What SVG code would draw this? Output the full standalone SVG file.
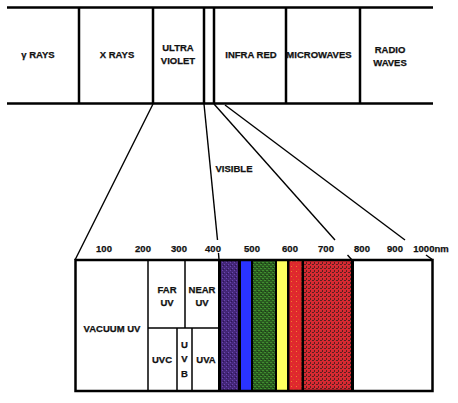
<svg xmlns="http://www.w3.org/2000/svg" width="458" height="403" viewBox="0 0 458 403">
<style>
text{font-family:"Liberation Sans",Arial,sans-serif;font-weight:bold;font-size:9.5px;fill:#111;stroke:#111;stroke-width:0.25;text-anchor:middle}
.thick{stroke:#000;stroke-width:2.5;fill:none}
.thin{stroke:#000;stroke-width:1.5;fill:none}
.conn{stroke:#000;stroke-width:1.4;fill:none}
</style>
<defs>
<pattern id="pPurple" width="4" height="4" patternUnits="userSpaceOnUse">
<rect width="4" height="4" fill="#442679"/>
<rect x="0" y="0" width="1" height="1" fill="#6a48b0"/>
<rect x="2" y="2" width="1" height="1" fill="#6a48b0"/>
<rect x="3" y="1" width="1" height="1" fill="#2a1450"/>
</pattern>
<pattern id="pGreen" width="4" height="4" patternUnits="userSpaceOnUse">
<rect width="4" height="4" fill="#2a5a20"/>
<rect x="0" y="0" width="2" height="1" fill="#3f8f2f"/>
<rect x="2" y="2" width="2" height="1" fill="#3f8f2f"/>
<rect x="1" y="3" width="1" height="1" fill="#1a3a14"/>
</pattern>
<pattern id="pRed" width="5" height="5" patternUnits="userSpaceOnUse">
<rect width="5" height="5" fill="#e0282e"/>
<rect x="1" y="1" width="1" height="1" fill="#f08030"/>
<rect x="3" y="4" width="1" height="1" fill="#d05020"/>
</pattern>
<pattern id="pDark" width="4" height="4" patternUnits="userSpaceOnUse">
<rect width="4" height="4" fill="#d62a32"/>
<rect x="0" y="0" width="2" height="1" fill="#5a2020"/>
<rect x="2" y="2" width="1" height="2" fill="#5a2020"/>
</pattern>
</defs>

<g id="band-top">
<line class="thick" x1="7" y1="7.5" x2="433" y2="7.5"/>
<line class="thick" x1="7" y1="103.5" x2="433" y2="103.5"/>
<line class="thick" x1="79" y1="7" x2="79" y2="104"/>
<line class="thick" x1="153" y1="7" x2="153" y2="104"/>
<line class="thick" x1="204" y1="7" x2="204" y2="104"/>
<line class="thick" x1="214" y1="7" x2="214" y2="104"/>
<line class="thick" x1="286" y1="7" x2="286" y2="104"/>
<line class="thick" x1="360" y1="7" x2="360" y2="104"/>
</g>
<g id="gamma"><text x="38" y="58">γ RAYS</text></g>
<g id="xrays"><text x="117" y="58">X RAYS</text></g>
<g id="uv"><text x="178" y="51">ULTRA</text><text x="178" y="64">VIOLET</text></g>
<g id="ir"><text x="251" y="58">INFRA RED</text></g>
<g id="micro"><text x="319" y="58">MICROWAVES</text></g>
<g id="radio"><text x="390" y="53">RADIO</text><text x="390" y="66">WAVES</text></g>
<g id="visible-label"><text x="234" y="172">VISIBLE</text></g>

<g id="connectors">
<line class="conn" x1="153" y1="104" x2="75" y2="260"/>
<line class="conn" x1="204" y1="104" x2="217.5" y2="240"/>
<line class="conn" x1="218.5" y1="253" x2="219" y2="260"/>
<line class="conn" x1="214" y1="104" x2="335" y2="240"/>
<line class="conn" x1="347.5" y1="255" x2="352" y2="260"/>
<line class="conn" x1="225" y1="105" x2="405" y2="240"/>
<line class="conn" x1="426" y1="255" x2="433" y2="260"/>
</g>

<g id="scale">
<text x="104" y="252">100</text>
<text x="143" y="252">200</text>
<text x="179" y="252">300</text>
<text x="213" y="252">400</text>
<text x="252" y="252">500</text>
<text x="290" y="252">600</text>
<text x="326" y="252">700</text>
<text x="362" y="252">800</text>
<text x="395" y="252">900</text>
<text x="431" y="252">1000nm</text>
</g>

<g id="spectrum">
<rect x="218" y="259" width="136" height="133" fill="#000"/>
<rect x="221" y="261" width="17" height="129" fill="url(#pPurple)"/>
<rect x="241" y="261" width="10" height="129" fill="#2a33ff"/>
<rect x="253" y="261" width="22" height="129" fill="url(#pGreen)"/>
<rect x="277" y="261" width="10" height="129" fill="#ffff60"/>
<rect x="289.5" y="261" width="12" height="129" fill="url(#pRed)"/>
<rect x="304" y="261" width="47" height="129" fill="url(#pDark)"/>
</g>

<g id="box">
<rect class="thick" x="75.5" y="260" width="357" height="131"/>
<line class="thin" x1="148" y1="260" x2="148" y2="391"/>
<line class="thin" x1="148" y1="328" x2="218" y2="328"/>
<line class="thin" x1="185" y1="260" x2="185" y2="328"/>
<line class="thin" x1="177" y1="328" x2="177" y2="391"/>
<line class="thin" x1="192" y1="328" x2="192" y2="391"/>
</g>
<g id="vacuum"><text x="112" y="332">VACUUM UV</text></g>
<g id="far"><text x="167" y="293">FAR</text><text x="167" y="306">UV</text></g>
<g id="near"><text x="202" y="293">NEAR</text><text x="202" y="306">UV</text></g>
<g id="uvc"><text x="162" y="363">UVC</text></g>
<g id="uvb"><text x="184.5" y="348">U</text><text x="184.5" y="362">V</text><text x="184.5" y="377">B</text></g>
<g id="uva"><text x="206" y="363">UVA</text></g>
</svg>
